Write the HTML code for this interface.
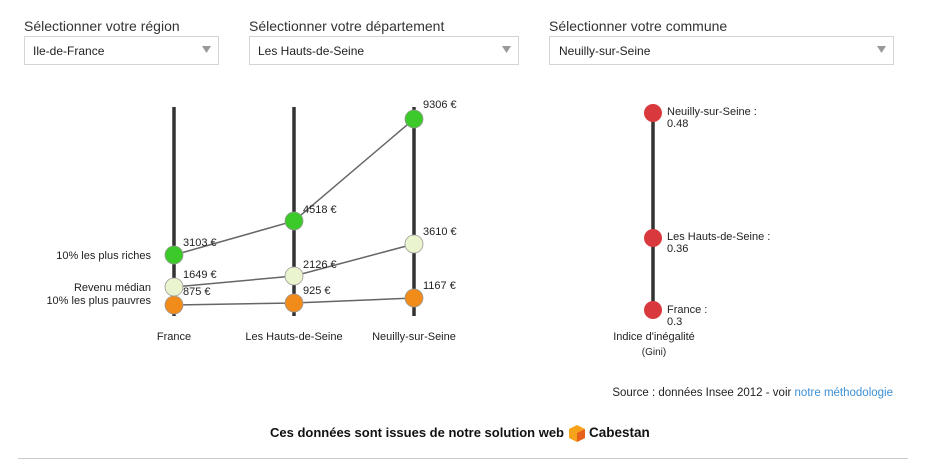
<!DOCTYPE html>
<html><head><meta charset="utf-8"><style>
body{margin:0;background:#fff;width:926px;height:474px;overflow:hidden;font-family:"Liberation Sans",sans-serif;}
</style></head><body>
<svg width="926" height="474" xmlns="http://www.w3.org/2000/svg" style="position:absolute;left:0;top:0;font-family:'Liberation Sans',sans-serif">
<g font-size="14" fill="#333">
<text x="24" y="31">Sélectionner votre région</text>
<text x="249" y="31">Sélectionner votre département</text>
<text x="549" y="31">Sélectionner votre commune</text>
</g>
<g fill="#fff" stroke="#d4d4d4">
<rect x="24.5" y="36.5" width="194" height="28"/>
<rect x="249.5" y="36.5" width="269" height="28"/>
<rect x="549.5" y="36.5" width="344" height="28"/>
</g>
<g font-size="12" fill="#222">
<text x="33" y="55">Ile-de-France</text>
<text x="258" y="55">Les Hauts-de-Seine</text>
<text x="559" y="55">Neuilly-sur-Seine</text>
</g>
<g fill="#999">
<path d="M202 46h9l-4.5 7z"/><path d="M502 46h9l-4.5 7z"/><path d="M877 46h9l-4.5 7z"/>
</g>
<g stroke="#333" stroke-width="3.5">
<line x1="174" y1="107" x2="174" y2="316"/>
<line x1="294" y1="107" x2="294" y2="316"/>
<line x1="414" y1="107" x2="414" y2="316"/>
<line x1="653" y1="113" x2="653" y2="310"/>
</g>
<g stroke="#666" stroke-width="1.5" fill="none">
<polyline points="174,255 294,221 414,119"/>
<polyline points="174,287 294,276 414,244"/>
<polyline points="174,305 294,303 414,298"/>
</g>
<g stroke="#999" stroke-width="0.8">
<g fill="#3cc92a"><circle cx="174" cy="255" r="9"/><circle cx="294" cy="221" r="9"/><circle cx="414" cy="119" r="9"/></g>
<g fill="#eaf5cf"><circle cx="174" cy="287" r="9"/><circle cx="294" cy="276" r="9"/><circle cx="414" cy="244" r="9"/></g>
<g fill="#f18c1a"><circle cx="174" cy="305" r="9"/><circle cx="294" cy="303" r="9"/><circle cx="414" cy="298" r="9"/></g>
<g fill="#d9393d" stroke="none"><circle cx="653" cy="113" r="9"/><circle cx="653" cy="238" r="9"/><circle cx="653" cy="310" r="9"/></g>
</g>
<g font-size="11" fill="#222">
<text x="183" y="246">3103 €</text><text x="303" y="213">4518 €</text><text x="423" y="108">9306 €</text>
<text x="183" y="278">1649 €</text><text x="303" y="268">2126 €</text><text x="423" y="235">3610 €</text>
<text x="183" y="295">875 €</text><text x="303" y="294">925 €</text><text x="423" y="289">1167 €</text>
<g text-anchor="end"><text x="151" y="259">10% les plus riches</text><text x="151" y="291">Revenu médian</text><text x="151" y="304">10% les plus pauvres</text></g>
<g text-anchor="middle"><text x="174" y="340">France</text><text x="294" y="340">Les Hauts-de-Seine</text><text x="414" y="340">Neuilly-sur-Seine</text>
<text x="654" y="340">Indice d'inégalité</text><text x="654" y="355" font-size="10">(Gini)</text></g>
<text x="667" y="115">Neuilly-sur-Seine :</text><text x="667" y="127">0.48</text>
<text x="667" y="240">Les Hauts-de-Seine :</text><text x="667" y="252">0.36</text>
<text x="667" y="313">France :</text><text x="667" y="325">0.3</text>
<text x="893" y="396" text-anchor="end" font-size="11.5">Source : données Insee 2012 - voir <tspan fill="#3c8fd6">notre méthodologie</tspan></text>
</g>
<text x="270" y="437" font-size="13" font-weight="bold" fill="#111">Ces données sont issues de notre solution web</text>
<path d="M577 425l8 4v9l-8 4-8-4v-9z" fill="#f6a21a"/><path d="M577 433l8-4v9l-8 4z" fill="#e8611a"/>
<text x="589" y="437" font-size="13.5" font-weight="bold" fill="#111">Cabestan</text>
<line x1="18" y1="458.5" x2="908" y2="458.5" stroke="#ccc"/>
</svg>
</body></html>
